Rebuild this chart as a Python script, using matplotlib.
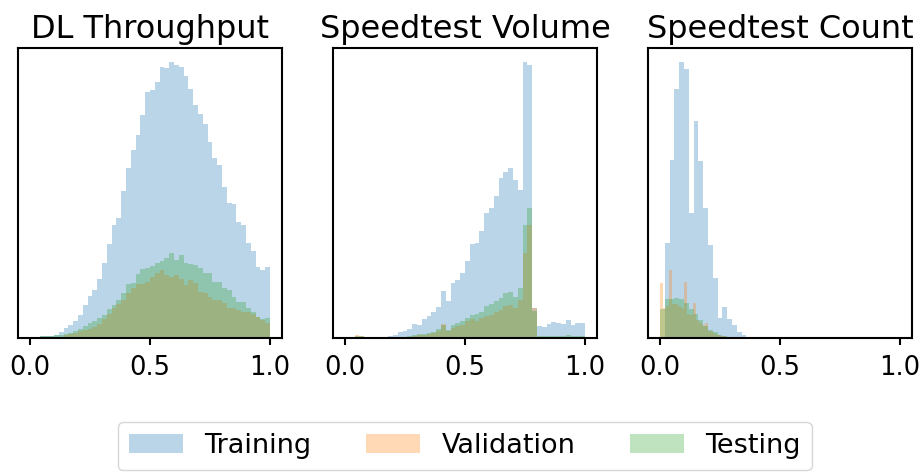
import numpy as np
import matplotlib.pyplot as plt

# Normalised features, histogram bin heights per split
titles = ["DL Throughput", "Speedtest Volume", "Speedtest Count"]
splits = ["Training", "Validation", "Testing"]
colors = ["tab:blue", "tab:orange", "tab:green"]

# DL Throughput, 50 bins over [0, 1]
dl_train = [0, 0, 5, 6, 7, 10, 18, 30, 40, 52, 68, 98, 126, 143, 175, 223, 281, 336, 358, 438,
            508, 560, 606, 665, 733, 738, 763, 808, 806, 823, 813, 808, 781, 741, 693, 668, 638, 583, 536, 516,
            451, 403, 398, 346, 338, 283, 258, 213, 203, 213]
dl_val = [0, 0, 3, 3, 3, 3, 3, 8, 12, 16, 20, 23, 28, 33, 43, 58, 73, 88, 100, 113,
          133, 150, 160, 160, 168, 183, 193, 203, 188, 183, 188, 175, 158, 173, 165, 138, 133, 123, 113, 113,
          103, 88, 88, 83, 78, 78, 73, 63, 55, 45]
dl_test = [0, 0, 5, 5, 5, 8, 8, 12, 16, 21, 28, 36, 46, 50, 60, 70, 85, 98, 113, 135,
           160, 163, 190, 206, 210, 214, 223, 230, 238, 252, 233, 246, 223, 220, 218, 210, 193, 193, 168, 166,
           148, 143, 121, 108, 106, 88, 78, 63, 58, 60]

# Speedtest Volume, 50 bins over [0, 1]
vol_train = [0, 0, 0, 0, 0, 0, 0, 2, 2, 6, 10, 18, 20, 28, 43, 40, 56, 66, 78, 93,
             140, 110, 163, 173, 195, 230, 280, 282, 318, 373, 386, 423, 476, 495, 506, 470, 440, 823, 813, 88,
             35, 33, 43, 48, 46, 43, 53, 38, 45, 45]
vol_val = [0, 0, 10, 7, 0, 0, 0, 0, 0, 0, 2, 3, 3, 3, 6, 8, 10, 13, 16, 20,
           43, 20, 30, 36, 40, 50, 56, 50, 60, 66, 70, 78, 83, 96, 98, 88, 112, 253, 337, 88,
           3, 3, 3, 3, 3, 3, 3, 3, 3, 3]
vol_test = [0, 0, 5, 6, 0, 0, 0, 0, 0, 0, 2, 2, 3, 6, 8, 12, 12, 16, 18, 26,
            40, 23, 38, 46, 50, 60, 70, 73, 78, 96, 102, 110, 118, 133, 138, 123, 150, 338, 387, 80,
            6, 6, 6, 6, 7, 6, 8, 6, 5, 5]

# Speedtest Count, bins start at 0 (validation uses narrower bins)
cnt_train = [0, 283, 530, 743, 823, 803, 373, 648, 528, 386, 276, 178, 60, 93, 58, 40, 18, 10, 3, 3, 2]
cnt_val = [165, 90, 95, 202, 100, 100, 95, 90, 168, 72, 68, 105, 55, 45, 38, 45, 22, 18, 13, 10, 7, 5, 3, 2]
cnt_test = [85, 115, 117, 120, 115, 105, 85, 72, 55, 35, 25, 18, 10, 5, 3, 1]

panels = [
    [(dl_train, 0.02), (dl_val, 0.02), (dl_test, 0.02)],
    [(vol_train, 0.02), (vol_val, 0.02), (vol_test, 0.02)],
    [(cnt_train, 0.02), (cnt_val, 0.0125), (cnt_test, 0.02)],
]

fig = plt.figure(figsize=(9.24, 4.72), dpi=100)
lefts = [18 / 924, 333 / 924, 648 / 924]
axes = [fig.add_axes([l, 134 / 472, 264 / 924, 290 / 472]) for l in lefts]

for ax, title, hists in zip(axes, titles, panels):
    for (heights, width), name, c in zip(hists, splits, colors):
        edges = np.arange(len(heights) + 1) * width
        centers = edges[:-1] + width / 2
        ax.hist(centers, bins=edges, weights=heights, alpha=0.3, color=c, label=name)
    ax.set_title(title, fontsize=23, pad=7)
    ax.set_xlim(-0.05, 1.05)
    ax.set_xticks([0.0, 0.5, 1.0])
    ax.set_yticks([])
    ax.tick_params(axis="x", labelsize=18.5, length=5, width=1.5, pad=7.5)
    for s in ax.spines.values():
        s.set_linewidth(1.5)

handles, labels = axes[0].get_legend_handles_labels()
fig.legend(handles, labels, loc="lower center", bbox_to_anchor=(0.503, 0.004),
           ncol=3, fontsize=19.5, borderaxespad=0)

fig.savefig("out.png", dpi=100)
